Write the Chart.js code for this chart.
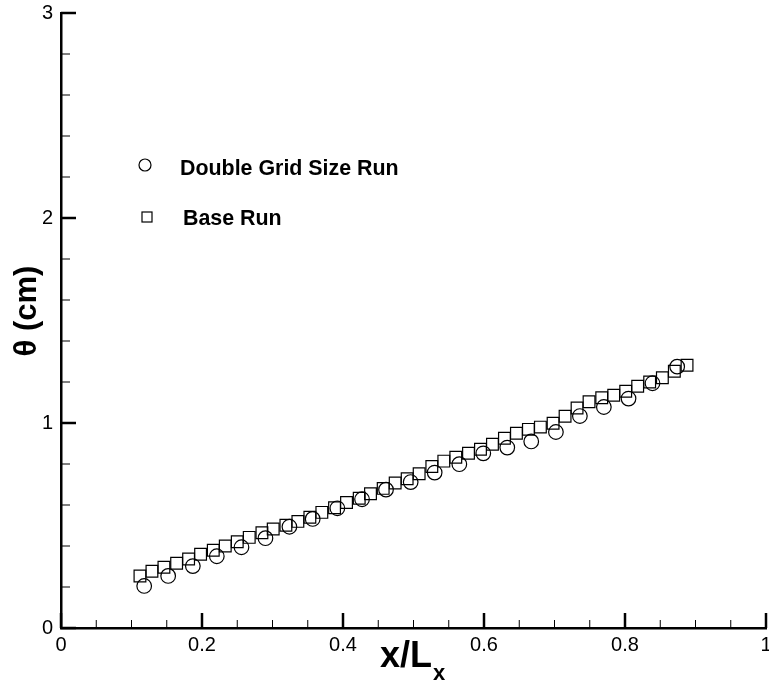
<!DOCTYPE html>
<html>
<head>
<meta charset="utf-8">
<script src="https://cdn.jsdelivr.net/npm/chart.js@4.4.1/dist/chart.umd.min.js"></script>
<style>
  body { margin: 0; background: #fff; }
  #thetaChart { display: block; }
</style>
</head>
<body>
<canvas id="thetaChart" width="769" height="685"></canvas>
<script>
// Double grid size run (circles)
const doubleGridX = [0.118, 0.152, 0.187, 0.221, 0.256, 0.290, 0.324, 0.357, 0.392, 0.427, 0.461, 0.496,
  0.530, 0.565, 0.599, 0.633, 0.667, 0.702, 0.736, 0.770, 0.805, 0.839, 0.874];
const doubleGridY = [0.205, 0.254, 0.302, 0.350, 0.394, 0.438, 0.494, 0.532, 0.584, 0.628, 0.675, 0.712,
  0.758, 0.799, 0.852, 0.880, 0.910, 0.956, 1.034, 1.078, 1.119, 1.194, 1.275];

// Base run (squares)
const baseRunX = [0.112, 0.129, 0.146, 0.164, 0.181, 0.198, 0.216, 0.233, 0.250, 0.267, 0.285, 0.301,
  0.319, 0.336, 0.353, 0.370, 0.388, 0.405, 0.423, 0.439, 0.457, 0.474, 0.491, 0.508,
  0.526, 0.543, 0.560, 0.578, 0.595, 0.612, 0.629, 0.646, 0.663, 0.680, 0.698, 0.715,
  0.732, 0.749, 0.767, 0.784, 0.801, 0.818, 0.835, 0.853, 0.870, 0.888];
const baseRunY = [0.254, 0.277, 0.296, 0.316, 0.337, 0.360, 0.379, 0.400, 0.421, 0.442, 0.465, 0.483,
  0.501, 0.520, 0.540, 0.564, 0.587, 0.612, 0.633, 0.655, 0.681, 0.707, 0.728, 0.752,
  0.788, 0.814, 0.833, 0.852, 0.872, 0.896, 0.926, 0.950, 0.969, 0.980, 0.999, 1.033,
  1.073, 1.104, 1.123, 1.135, 1.155, 1.179, 1.200, 1.221, 1.252, 1.282];

// Tick positions
const xMajor = [0, 0.2, 0.4, 0.6, 0.8, 1];
const xMinor = [0.05, 0.1, 0.15, 0.25, 0.3, 0.35, 0.45, 0.5, 0.55, 0.65, 0.7, 0.75, 0.85, 0.9, 0.95];
const yMajor = [0, 1, 2, 3];
const yMinor = [0.2, 0.4, 0.6, 0.8, 1.2, 1.4, 1.6, 1.8, 2.2, 2.4, 2.6, 2.8];

const seriesNames = ['Double Grid Size Run', 'Base Run'];

const FONT = '"Liberation Sans", Arial, sans-serif';

function toPoints(xs, ys) {
  return xs.map((x, i) => ({ x: x, y: ys[i] }));
}

// draws inward ticks, axis titles and the in-plot legend
const decorPlugin = {
  id: 'decor',
  afterDraw(chart) {
    const ctx = chart.ctx;
    const xs = chart.scales.x;
    const ys = chart.scales.y;
    const left = chart.chartArea.left;
    const bottom = chart.chartArea.bottom;

    ctx.save();
    ctx.strokeStyle = '#000';

    function seg(x1, y1, x2, y2) {
      ctx.beginPath();
      ctx.moveTo(x1, y1);
      ctx.lineTo(x2, y2);
      ctx.stroke();
    }

    ctx.lineWidth = 1;
    yMinor.forEach(v => { const p = ys.getPixelForValue(v); seg(left, p, left + 9, p); });
    xMinor.forEach(v => { const p = xs.getPixelForValue(v); seg(p, bottom, p, bottom - 8); });
    ctx.lineWidth = 2.5;
    yMajor.forEach(v => { const p = ys.getPixelForValue(v); seg(left, p, left + 15, p); });
    xMajor.forEach(v => { const p = xs.getPixelForValue(v); seg(p, bottom, p, bottom - 15); });

    // axis titles
    ctx.fillStyle = '#000';
    ctx.textBaseline = 'alphabetic';
    ctx.textAlign = 'left';
    ctx.font = 'bold 36px ' + FONT;
    ctx.fillText('x/L', 380, 667);
    const w = ctx.measureText('x/L').width;
    ctx.font = 'bold 22px ' + FONT;
    ctx.fillText('x', 380 + w + 1, 680);

    ctx.save();
    ctx.translate(36, 311);
    ctx.rotate(-Math.PI / 2);
    ctx.textAlign = 'center';
    ctx.font = 'bold 31px ' + FONT;
    ctx.fillText('\u03B8 (cm)', 0, 0);
    ctx.restore();

    // legend
    ctx.lineWidth = 1.2;
    ctx.beginPath();
    ctx.arc(145, 165, 6, 0, Math.PI * 2);
    ctx.stroke();
    ctx.strokeRect(142, 212, 10, 10);
    ctx.font = 'bold 21.4px ' + FONT;
    ctx.textBaseline = 'middle';
    ctx.fillText(seriesNames[0], 180, 169);
    ctx.fillText(seriesNames[1], 183, 219);
    ctx.restore();
  }
};

const ctx = document.getElementById('thetaChart').getContext('2d');
const thetaChart = new Chart(ctx, {
  type: 'scatter',
  data: {
    datasets: [{
      label: seriesNames[0],
      data: toPoints(doubleGridX, doubleGridY),
      pointStyle: 'circle',
      pointRadius: 7.3,
      borderColor: '#000',
      backgroundColor: 'rgba(0,0,0,0)',
      borderWidth: 1.2
    }, {
      label: seriesNames[1],
      data: toPoints(baseRunX, baseRunY),
      pointStyle: 'rect',
      pointRadius: 8.3,
      borderColor: '#000',
      backgroundColor: 'rgba(0,0,0,0)',
      borderWidth: 1.2
    }]
  },
  options: {
    responsive: false,
    animation: false,
    layout: { autoPadding: false, padding: { top: 13, right: 3, left: 0, bottom: 0 } },
    plugins: {
      legend: { display: false },
      tooltip: { enabled: false }
    },
    scales: {
      x: {
        type: 'linear',
        min: 0,
        max: 1,
        afterBuildTicks: s => { s.ticks = xMajor.map(v => ({ value: v })); },
        afterFit: s => { s.height = 57; s.paddingLeft = 0; s.paddingRight = 0; },
        grid: { display: false, drawTicks: false },
        border: { display: true, color: '#000', width: 2.5 },
        ticks: {
          color: '#000',
          padding: 5,
          maxRotation: 0,
          font: { family: FONT, size: 20 },
          callback: v => String(v)
        }
      },
      y: {
        type: 'linear',
        min: 0,
        max: 3,
        afterBuildTicks: s => { s.ticks = yMajor.map(v => ({ value: v })); },
        afterFit: s => { s.width = 61; s.paddingTop = 0; s.paddingBottom = 0; },
        grid: { display: false, drawTicks: false },
        border: { display: true, color: '#000', width: 2.5 },
        ticks: {
          color: '#000',
          padding: 8,
          font: { family: FONT, size: 20 },
          callback: v => String(v)
        }
      }
    }
  },
  plugins: [decorPlugin]
});
</script>
</body>
</html>
